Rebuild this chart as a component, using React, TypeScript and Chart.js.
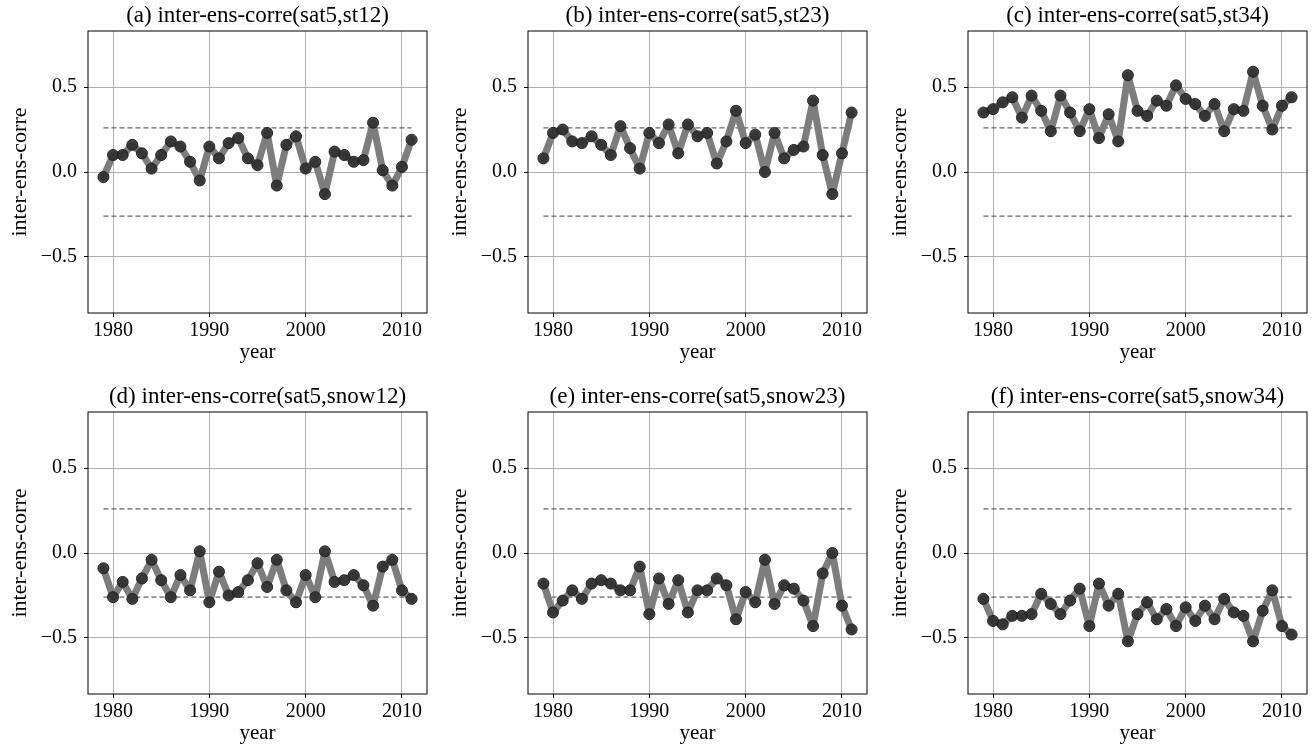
import React, { useEffect, useRef } from "react";
import { Chart, registerables } from "chart.js";

Chart.register(...registerables);

const years = [1979, 1980, 1981, 1982, 1983, 1984, 1985, 1986, 1987, 1988, 1989, 1990, 1991, 1992, 1993, 1994, 1995, 1996, 1997, 1998, 1999, 2000, 2001, 2002, 2003, 2004, 2005, 2006, 2007, 2008, 2009, 2010, 2011];

const st12 = [-0.03, 0.10, 0.10, 0.16, 0.11, 0.02, 0.10, 0.18, 0.15, 0.06, -0.05, 0.15, 0.08, 0.17, 0.20, 0.08, 0.04, 0.23, -0.08, 0.16, 0.21, 0.02, 0.06, -0.13, 0.12, 0.10, 0.06, 0.07, 0.29, 0.01, -0.08, 0.03, 0.19];
const st23 = [0.08, 0.23, 0.25, 0.18, 0.17, 0.21, 0.16, 0.10, 0.27, 0.14, 0.02, 0.23, 0.17, 0.28, 0.11, 0.28, 0.21, 0.23, 0.05, 0.18, 0.36, 0.17, 0.22, 0.00, 0.23, 0.08, 0.13, 0.15, 0.42, 0.10, -0.13, 0.11, 0.35];
const st34 = [0.35, 0.37, 0.41, 0.44, 0.32, 0.45, 0.36, 0.24, 0.45, 0.35, 0.24, 0.37, 0.20, 0.34, 0.18, 0.57, 0.36, 0.33, 0.42, 0.39, 0.51, 0.43, 0.40, 0.33, 0.40, 0.24, 0.37, 0.36, 0.59, 0.39, 0.25, 0.39, 0.44];
const snow12 = [-0.09, -0.26, -0.17, -0.27, -0.15, -0.04, -0.16, -0.26, -0.13, -0.22, 0.01, -0.29, -0.11, -0.25, -0.23, -0.16, -0.06, -0.20, -0.04, -0.22, -0.29, -0.13, -0.26, 0.01, -0.17, -0.16, -0.13, -0.19, -0.31, -0.08, -0.04, -0.22, -0.27];
const snow23 = [-0.18, -0.35, -0.28, -0.22, -0.27, -0.18, -0.16, -0.18, -0.22, -0.22, -0.08, -0.36, -0.15, -0.30, -0.16, -0.35, -0.22, -0.22, -0.15, -0.19, -0.39, -0.23, -0.29, -0.04, -0.30, -0.19, -0.21, -0.28, -0.43, -0.12, 0.00, -0.31, -0.45];
const snow34 = [-0.27, -0.40, -0.42, -0.37, -0.37, -0.36, -0.24, -0.30, -0.36, -0.28, -0.21, -0.43, -0.18, -0.31, -0.24, -0.52, -0.36, -0.29, -0.39, -0.33, -0.43, -0.32, -0.40, -0.31, -0.39, -0.27, -0.35, -0.37, -0.52, -0.34, -0.22, -0.43, -0.48];

const titles = [
  "(a) inter-ens-corre(sat5,st12)",
  "(b) inter-ens-corre(sat5,st23)",
  "(c) inter-ens-corre(sat5,st34)",
  "(d) inter-ens-corre(sat5,snow12)",
  "(e) inter-ens-corre(sat5,snow23)",
  "(f) inter-ens-corre(sat5,snow34)",
];
const seriesList = [st12, st23, st34, snow12, snow23, snow34];

const threshold = 0.26;
const xTicks = [1980, 1990, 2000, 2010];
const yTicks = [-0.5, 0.0, 0.5];
const yTickLabels = ["\u22120.5", "0.0", "0.5"];
const xMin = 1977.4;
const xMax = 2012.6;
const yMin = -0.83;
const yMax = 0.83;

const FONT = '"Liberation Serif", "Times New Roman", serif';

const PLOT_LEFTS = [88, 528, 968];
const PLOT_TOPS = [31, 412];
const PLOT_W = 339;
const PLOT_H = 282;
const PAD_L = 88;
const PAD_T = 31;
const PAD_R = 8;
const AX_H = 60;

function Panel({ idx }: { idx: number }) {
  const ref = useRef<HTMLCanvasElement | null>(null);
  const col = idx % 3;
  const row = Math.floor(idx / 3);
  const left = PLOT_LEFTS[col] - PAD_L;
  const top = PLOT_TOPS[row] - PAD_T;
  const width = PAD_L + PLOT_W + PAD_R;
  const height = PAD_T + PLOT_H + AX_H;

  useEffect(() => {
    const values = seriesList[idx];
    const title = titles[idx];
    const framePlugin = {
      id: "frame" + idx,
      afterDatasetsDraw(chart: any) {
        const { ctx, chartArea } = chart;
        ctx.save();
        ctx.strokeStyle = "#000";
        ctx.lineWidth = 1;
        ctx.strokeRect(chartArea.left, chartArea.top, chartArea.right - chartArea.left, chartArea.bottom - chartArea.top);
        ctx.fillStyle = "#000";
        ctx.font = `23px ${FONT}`;
        ctx.textAlign = "center";
        ctx.textBaseline = "alphabetic";
        ctx.fillText(title, (chartArea.left + chartArea.right) / 2, chartArea.top - 9);
        ctx.restore();
      },
    };
    const chart = new Chart(ref.current as HTMLCanvasElement, {
      type: "line",
      data: {
        datasets: [
          {
            data: years.map((y, i) => ({ x: y, y: values[i] })),
            borderColor: "#7d7d7d",
            borderWidth: 7,
            borderJoinStyle: "round",
            borderCapStyle: "round",
            pointRadius: 5.5,
            pointBackgroundColor: "rgba(45,45,45,0.9)",
            pointBorderColor: "#222",
            pointBorderWidth: 1,
            tension: 0,
          },
          {
            data: [
              { x: years[0], y: threshold },
              { x: years[years.length - 1], y: threshold },
            ],
            borderColor: "#666",
            borderWidth: 1.2,
            borderDash: [5, 3],
            pointRadius: 0,
          },
          {
            data: [
              { x: years[0], y: -threshold },
              { x: years[years.length - 1], y: -threshold },
            ],
            borderColor: "#666",
            borderWidth: 1.2,
            borderDash: [5, 3],
            pointRadius: 0,
          },
        ],
      },
      options: {
        animation: false,
        responsive: false,
        maintainAspectRatio: false,
        devicePixelRatio: 1,
        layout: { padding: { left: 0, top: PAD_T, right: PAD_R, bottom: 0 }, autoPadding: false },
        plugins: { legend: { display: false }, tooltip: { enabled: false }, title: { display: false } },
        scales: {
          x: {
            type: "linear",
            min: xMin,
            max: xMax,
            afterBuildTicks: (s: any) => {
              s.ticks = xTicks.map((v) => ({ value: v }));
            },
            afterFit: (s: any) => {
              s.height = AX_H;
            },
            ticks: {
              callback: (v: any) => String(v),
              color: "#000",
              font: { family: FONT, size: 20 },
              padding: 2,
              maxRotation: 0,
              autoSkip: false,
            },
            grid: { color: "#b0b0b0", lineWidth: 1, tickColor: "#000", tickLength: 4 },
            border: { display: false },
            title: {
              display: true,
              text: "year",
              color: "#000",
              font: { family: FONT, size: 21, lineHeight: 1 },
              padding: { top: 0, bottom: 10 },
            },
          },
          y: {
            type: "linear",
            min: yMin,
            max: yMax,
            afterBuildTicks: (s: any) => {
              s.ticks = yTicks.map((v) => ({ value: v }));
            },
            afterFit: (s: any) => {
              s.width = PAD_L;
            },
            ticks: {
              callback: (v: any) => {
                const k = yTicks.indexOf(v);
                return k >= 0 ? yTickLabels[k] : "";
              },
              color: "#000",
              font: { family: FONT, size: 20 },
              padding: 7,
              autoSkip: false,
            },
            grid: { color: "#b0b0b0", lineWidth: 1, tickColor: "#000", tickLength: 4 },
            border: { display: false },
            title: {
              display: true,
              text: "inter-ens-corre",
              color: "#000",
              font: { family: FONT, size: 22, lineHeight: 1 },
              padding: { top: 9, bottom: 0 },
            },
          },
        },
      },
      plugins: [framePlugin],
    } as any);
    return () => chart.destroy();
  }, [idx]);

  return (
    <canvas
      ref={ref}
      width={width}
      height={height}
      style={{ position: "absolute", left, top, width, height }}
    />
  );
}

export default function App() {
  return (
    <div
      style={{
        position: "absolute",
        left: 0,
        top: 0,
        width: 1315,
        height: 749,
        overflow: "hidden",
        background: "#fff",
      }}
    >
      {[0, 1, 2, 3, 4, 5].map((i) => (
        <Panel key={i} idx={i} />
      ))}
    </div>
  );
}
